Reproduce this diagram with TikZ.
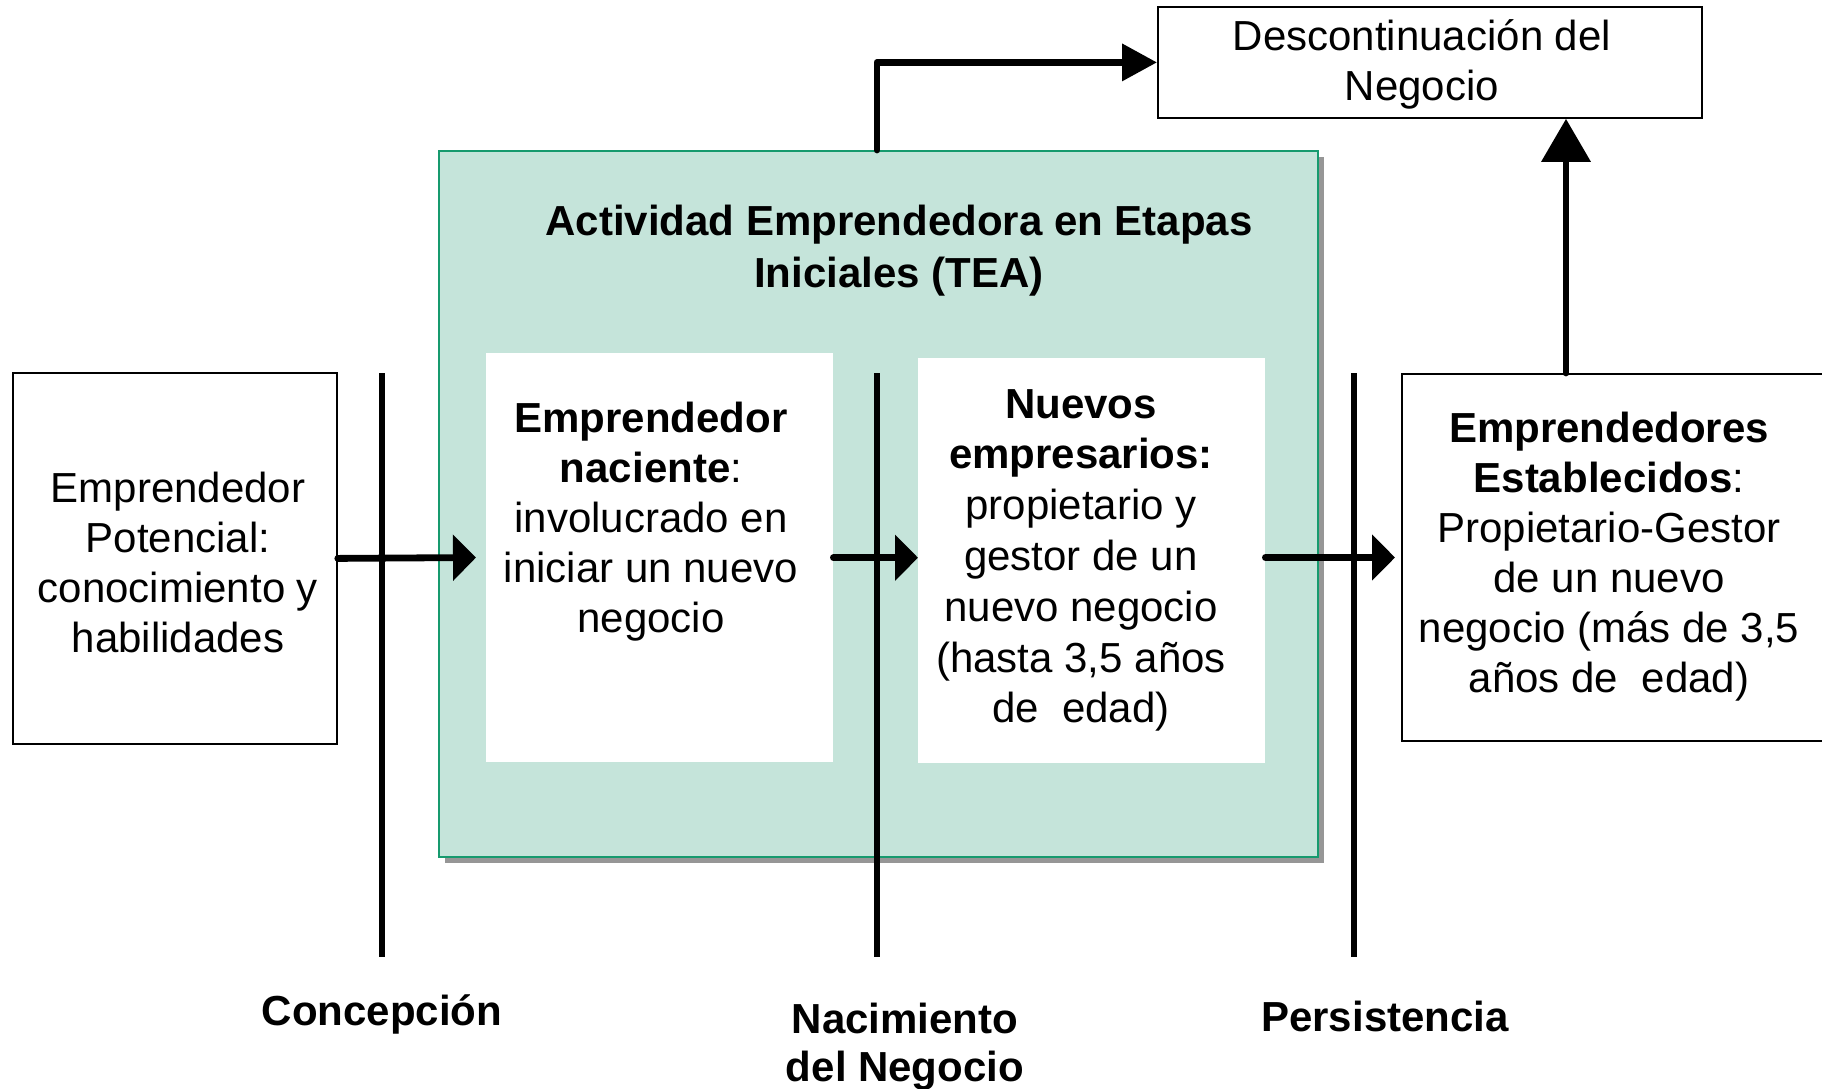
\documentclass[tikz,border=0pt]{standalone}
\usepackage{fontspec}
\setmainfont{Liberation Sans}
\usetikzlibrary{arrows.meta}
\definecolor{teafill}{RGB}{197,228,218}
\definecolor{teaedge}{RGB}{22,154,110}
\definecolor{shadowgray}{RGB}{150,150,150}
\tikzset{
  txt/.style={inner sep=0pt, align=center, font=\fontsize{42}{50}\selectfont},
  boxline/.style={draw=black, line width=1.8pt, inner sep=0pt, anchor=north west},
  innerbox/.style={fill=white, inner sep=0pt, anchor=north west},
  bar/.style={line width=6.5pt},
  conn/.style={line width=6.8pt, line cap=round, line join=round},
}
\begin{document}
\begin{tikzpicture}[x=1pt,y=-1pt]
\useasboundingbox (0,0) rectangle (1822,1088);
% TEA box with shadow
\fill[shadowgray] (445,157) rectangle (1324,863);
\node[draw=teaedge, fill=teafill, line width=2pt, inner sep=0pt, anchor=north west,
      minimum width=879pt, minimum height=706pt] (tea) at (438,150) {};
\node[txt, font=\fontsize{42}{52}\selectfont\bfseries, anchor=north] (teat) at (899,198.6)
  {\strut Actividad Emprendedora en Etapas\\\strut Iniciales (TEA)};
% inner boxes
\node[innerbox, minimum width=347pt, minimum height=409pt] (b1) at (486,353) {};
\node[innerbox, minimum width=347pt, minimum height=405pt] (b2) at (918,358) {};
\node[txt, anchor=north] (b1t) at (651,397)
  {\strut\textbf{Emprendedor}\\\strut\textbf{naciente}:\\\strut involucrado en\\\strut iniciar un nuevo\\\strut negocio};
\node[txt, font=\fontsize{42}{50.8}\selectfont, anchor=north] (b2t) at (1081,382.4)
  {\strut\textbf{Nuevos}\\\strut\textbf{empresarios:}\\\strut propietario y\\\strut gestor de un\\\strut nuevo negocio\\\strut (hasta 3,5 años\\\strut de~~edad)};
% left box
\node[boxline, minimum width=324pt, minimum height=371pt] (lbox) at (12,372) {};
\node[txt, anchor=north] (lboxt) at (178,467)
  {\strut Emprendedor\\\strut Potencial:\\\strut conocimiento y\\\strut habilidades};
% right box
\node[boxline, minimum width=440pt, minimum height=367pt] (rbox) at (1401,373) {};
\node[txt, anchor=north] (rboxt) at (1609,407)
  {\strut\textbf{Emprendedores}\\\strut\textbf{Establecidos}:\\\strut Propietario-Gestor\\\strut de un nuevo\\\strut negocio (más de 3,5\\\strut años de~~edad)};
% discontinuation box
\node[boxline, minimum width=544pt, minimum height=111pt] (desc) at (1157,6) {};
\node[txt, anchor=north] (desct) at (1422,15)
  {\strut Descontinuación del\\\strut Negocio};
% vertical bars
\draw[bar] (382,373) -- (382,957);
\draw[bar] (877,373) -- (877,957);
\draw[bar] (1354,373) -- (1354,957);
% bottom labels
\node[txt, font=\fontsize{42}{50}\selectfont\bfseries, anchor=base] (conc) at (382,1025) {Concepción};
\node[txt, font=\fontsize{42}{48}\selectfont\bfseries, anchor=north] (naci) at (905,999.4)
  {\strut Nacimiento\\\strut del Negocio};
\node[txt, font=\fontsize{42}{50}\selectfont\bfseries, anchor=base] (pers) at (1385,1031) {Persistencia};
% connectors
\coordinate (t1) at (476,557.5);
\coordinate (t3) at (1395,557.5);
\coordinate (a4) at (877,150);
\coordinate (a5) at (1566,373);
\draw[conn, -{Triangle[length=23pt,width=45pt]}] (lbox.east) -- (t1);
\draw[conn, -{Triangle[length=23pt,width=45pt]}] (b1.east) -- (b2.west |- b1.east);
\draw[conn, -{Triangle[length=23pt,width=45pt]}] (b2.east |- t3) -- (t3);
\draw[conn, -{Triangle[length=35pt,width=36pt]}] (a4) |- (desc.west);
\draw[conn, -{Triangle[length=43pt,width=48pt]}] (a5) -- (a5 |- desc.south);
\end{tikzpicture}
\end{document}
